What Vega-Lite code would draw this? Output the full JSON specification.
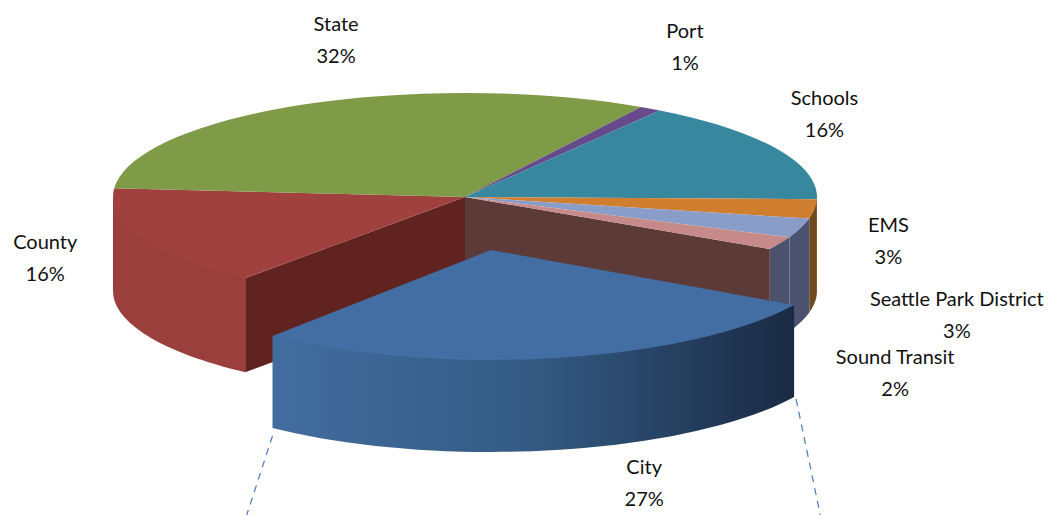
{"$schema":"https://vega.github.io/schema/vega-lite/v6.json","width":1064,"height":515,"padding":0,"autosize":"none","background":"white","config":{"view":{"stroke":null}},
"data":{"values":[{"name":"City","share":27.4},{"name":"County","share":15.6},{"name":"State","share":32},{"name":"Port","share":1},{"name":"Schools","share":16},{"name":"EMS","share":3},{"name":"Seattle Park District","share":3},{"name":"Sound Transit","share":2}]},
"transform":[
{"window":[{"op":"sum","field":"share","as":"cum"}]},
{"calculate":"120+(datum.cum-datum.share)*3.6","as":"t1"},
{"calculate":"120+datum.cum*3.6","as":"t2"},
{"calculate":"datum.t1>=360?datum.t1-360:datum.t1","as":"n1"},
{"calculate":"datum.n1+datum.t2-datum.t1","as":"n2"},
{"calculate":"datum.name=='City'?26:0","as":"ex"},
{"calculate":"datum.name=='City'?53:0","as":"ey"},
{"calculate":"datum.name=='City'?350:352","as":"ra"},
{"calculate":"datum.name=='City'?110:104","as":"rb"},
{"calculate":"datum.name=='City'?92:94","as":"dp"},
{"calculate":"round((datum.ex+datum.ra*sin(datum.n1*PI/180))*10)/10","as":"x1"},
{"calculate":"round((datum.ey-datum.rb*cos(datum.n1*PI/180))*10)/10","as":"y1"},
{"calculate":"round((datum.ex+datum.ra*sin(datum.n2*PI/180))*10)/10","as":"x2"},
{"calculate":"round((datum.ey-datum.rb*cos(datum.n2*PI/180))*10)/10","as":"y2"},
{"calculate":"max(datum.n1,90)","as":"w1"},
{"calculate":"min(datum.n2,270)","as":"w2"},
{"calculate":"round((datum.ex+datum.ra*sin(datum.w1*PI/180))*10)/10","as":"wx1"},
{"calculate":"round((datum.ey-datum.rb*cos(datum.w1*PI/180))*10)/10","as":"wy1"},
{"calculate":"round((datum.ex+datum.ra*sin(datum.w2*PI/180))*10)/10","as":"wx2"},
{"calculate":"round((datum.ey-datum.rb*cos(datum.w2*PI/180))*10)/10","as":"wy2"},
{"calculate":"'M'+datum.ex+','+datum.ey+' L'+datum.x1+','+datum.y1+' A'+datum.ra+','+datum.rb+' 0 0 1 '+datum.x2+','+datum.y2+' Z'","as":"topPath"},
{"calculate":"'M'+datum.wx1+','+datum.wy1+' L'+datum.wx2+','+datum.wy2+' L'+datum.wx2+','+(datum.wy2+datum.dp)+' A'+datum.ra+','+datum.rb+' 0 0 0 '+datum.wx1+','+(datum.wy1+datum.dp)+' Z'","as":"wallPath"},
{"calculate":"datum.name=='County'?'M0,0 L'+datum.x1+','+datum.y1+' L'+datum.x1+','+(datum.y1+datum.dp)+' L0,'+datum.dp+' Z':'M0,0 L'+datum.x2+','+datum.y2+' L'+datum.x2+','+(datum.y2+datum.dp)+' L0,'+datum.dp+' Z'","as":"facePath"},
{"calculate":"'M'+datum.x2+','+(datum.y2+datum.dp+8)+' L'+(datum.x2-30)+','+(datum.y2+datum.dp+100)+' M'+(datum.x1+2)+','+(datum.y1+datum.dp+2)+' L'+(datum.x1+27)+','+(datum.y1+datum.dp+122)","as":"leaderPath"},
{"calculate":"datum.name+'\\n'+format(round(datum.share),'d')+'%'","as":"label"},
{"calculate":"(datum.t1+datum.t2)/2*PI/180","as":"mid"},
{"calculate":"cos(datum.mid)>0?352*sin(datum.mid)+36*cos(datum.mid)+50*pow(sin(datum.mid),4):(sin(datum.mid)>0?412*sin(datum.mid)+length(datum.name)*4.7:457*sin(datum.mid))+datum.ex+(datum.name=='City'?58:0)","as":"lx"},
{"calculate":"(cos(datum.mid)>0?-175*cos(datum.mid):(sin(datum.mid)<0?-159*cos(datum.mid):(datum.share<5?-400:-293)*cos(datum.mid)))-16.5","as":"ly"}
],
"layer":[
{"transform":[{"filter":"datum.w1<datum.w2&&datum.name!='City'"}],"mark":{"type":"point","filled":true,"opacity":1,"size":4,"strokeWidth":0},
"encoding":{"x":{"datum":0,"type":"quantitative","scale":{"domain":[-465,599],"nice":false,"zero":false},"axis":null},"y":{"datum":0,"type":"quantitative","scale":{"domain":[-197,318],"range":[0,515],"nice":false,"zero":false},"axis":null},
"shape":{"field":"wallPath","type":"nominal","scale":null},
"fill":{"field":"name","type":"nominal","legend":null,"scale":{"domain":["County","Schools","EMS","Seattle Park District","Sound Transit"],"range":["#9b3f3d","#6e4a1e","#6e4a1e","#4a5270","#4c526c"]}}}},
{"transform":[{"filter":"datum.name=='County'||datum.name=='Sound Transit'"}],"mark":{"type":"point","filled":true,"opacity":1,"size":4,"strokeWidth":0},
"encoding":{"x":{"datum":0,"type":"quantitative","axis":null},"y":{"datum":0,"type":"quantitative","axis":null},
"shape":{"field":"facePath","type":"nominal","scale":null},
"fill":{"field":"name","type":"nominal","legend":null,"scale":{"domain":["County","Sound Transit"],"range":["#612320","#5c3a38"]}}}},
{"transform":[{"filter":"datum.name!='City'"}],"mark":{"type":"point","filled":true,"opacity":1,"size":4,"strokeWidth":0},
"encoding":{"x":{"datum":0,"type":"quantitative","axis":null},"y":{"datum":0,"type":"quantitative","axis":null},
"shape":{"field":"topPath","type":"nominal","scale":null},
"fill":{"field":"name","type":"nominal","legend":null,"scale":{"domain":["County","State","Port","Schools","EMS","Seattle Park District","Sound Transit"],"range":["#a04140","#7f9b47","#674a8c","#37889f","#d07f31","#8a9dc8","#c78a8a"]}}}},
{"transform":[{"filter":"datum.name=='City'"}],"mark":{"type":"point","filled":true,"opacity":1,"size":4,"strokeWidth":0,"fill":{"gradient":"linear","x1":0,"y1":0,"x2":1,"y2":0,"stops":[{"offset":0,"color":"#426d9f"},{"offset":0.5,"color":"#345a83"},{"offset":1,"color":"#1a2a44"}]}},
"encoding":{"x":{"datum":0,"type":"quantitative","axis":null},"y":{"datum":0,"type":"quantitative","axis":null},"shape":{"field":"wallPath","type":"nominal","scale":null}}},
{"transform":[{"filter":"datum.name=='City'"}],"mark":{"type":"point","filled":true,"opacity":1,"size":4,"strokeWidth":0,"fill":"#436ea3"},
"encoding":{"x":{"datum":0,"type":"quantitative","axis":null},"y":{"datum":0,"type":"quantitative","axis":null},"shape":{"field":"topPath","type":"nominal","scale":null}}},
{"transform":[{"filter":"datum.name=='City'"}],"mark":{"type":"point","filled":false,"opacity":1,"size":4,"strokeWidth":1.2,"stroke":"#4a78c0","strokeDash":[7,6]},
"encoding":{"x":{"datum":0,"type":"quantitative","axis":null},"y":{"datum":0,"type":"quantitative","axis":null},"shape":{"field":"leaderPath","type":"nominal","scale":null}}},
{"mark":{"type":"text","font":"Lato","fontSize":20,"lineBreak":"\n","lineHeight":32,"align":"center","baseline":"middle","color":"#111111"},
"encoding":{"x":{"field":"lx","type":"quantitative","axis":null},"y":{"field":"ly","type":"quantitative","axis":null},"text":{"field":"label","type":"nominal"}}}
],
"resolve":{"scale":{"fill":"independent","shape":"independent"}}}
